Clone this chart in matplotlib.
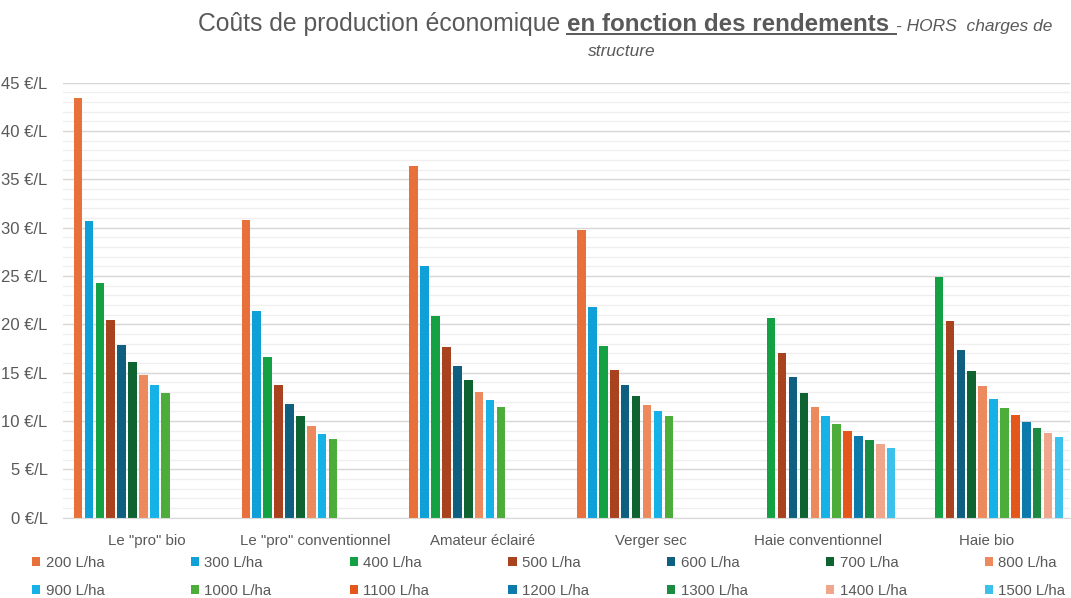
import numpy as np
import matplotlib.pyplot as plt
from matplotlib.lines import Line2D
from matplotlib.ticker import MultipleLocator

plt.rcParams['font.family'] = ['Liberation Sans', 'DejaVu Sans']

TEXT_GREY = '#595959'

CATEGORIES = ['Le "pro" bio', 'Le "pro" conventionnel', 'Amateur éclairé',
              'Verger sec', 'Haie conventionnel', 'Haie bio']
YIELDS = ['200 L/ha', '300 L/ha', '400 L/ha', '500 L/ha', '600 L/ha', '700 L/ha', '800 L/ha',
          '900 L/ha', '1000 L/ha', '1100 L/ha', '1200 L/ha', '1300 L/ha', '1400 L/ha', '1500 L/ha']

nan = np.nan
# cost per litre (€/L) for each yield level, in CATEGORIES order
COST_200 = [43.4, 30.8, 36.4, 29.8, nan, nan]
COST_300 = [30.7, 21.4, 26.0, 21.8, nan, nan]
COST_400 = [24.3, 16.6, 20.9, 17.8, 20.7, 24.9]
COST_500 = [20.5, 13.7, 17.7, 15.3, 17.0, 20.3]
COST_600 = [17.9, 11.8, 15.7, 13.7, 14.6, 17.3]
COST_700 = [16.1, 10.5, 14.2, 12.6, 12.9, 15.2]
COST_800 = [14.8, 9.5, 13.0, 11.7, 11.5, 13.6]
COST_900 = [13.7, 8.7, 12.2, 11.0, 10.5, 12.3]
COST_1000 = [12.9, 8.1, 11.5, 10.5, 9.7, 11.3]
COST_1100 = [nan, nan, nan, nan, 9.0, 10.6]
COST_1200 = [nan, nan, nan, nan, 8.5, 9.9]
COST_1300 = [nan, nan, nan, nan, 8.0, 9.3]
COST_1400 = [nan, nan, nan, nan, 7.6, 8.8]
COST_1500 = [nan, nan, nan, nan, 7.2, 8.4]

SERIES = [COST_200, COST_300, COST_400, COST_500, COST_600, COST_700, COST_800,
          COST_900, COST_1000, COST_1100, COST_1200, COST_1300, COST_1400, COST_1500]

COLORS = ['#E8703A', '#0FA0D8', '#14A143', '#A8421F', '#0E5F80', '#0F6331', '#EC8A5E',
          '#16B1E6', '#4CAD3A', '#E5561B', '#0C7BAB', '#1A8B40', '#F0A68A', '#3CC0EC']

fig = plt.figure(figsize=(10.71, 5.98), dpi=100)
ax = fig.add_axes([63 / 1071, 1 - 517.7 / 598, 1007 / 1071, 435 / 598])

x = np.arange(len(CATEGORIES))
slot = 0.065
bar_w = 0.051
n = len(SERIES)
for j, (vals, col, lab) in enumerate(zip(SERIES, COLORS, YIELDS)):
    ax.bar(x + (j - (n - 1) / 2) * slot + 0.012, vals, width=bar_w, color=col, label=lab, zorder=3)

ax.set_xlim(-0.5, len(CATEGORIES) - 0.5)
ax.set_ylim(0, 45)
ax.yaxis.set_minor_locator(MultipleLocator(1))
ax.set_yticks(np.arange(0, 46, 5))
ax.set_yticklabels([f"{v} €/L" for v in range(0, 46, 5)])
ax.grid(axis='y', which='major', color='#DAD6D6', linewidth=1.0, zorder=0)
ax.grid(axis='y', which='minor', color='#F0EEEE', linewidth=0.9, zorder=0)
ax.set_xticks(x)
ax.set_xticklabels(CATEGORIES)
ax.tick_params(axis='y', which='both', length=0, pad=11, labelsize=12, labelcolor=TEXT_GREY)
ax.tick_params(axis='x', length=0, pad=12, labelsize=10.8, labelcolor=TEXT_GREY)
for side in ['top', 'right', 'left']:
    ax.spines[side].set_visible(False)
ax.spines['bottom'].set_color('#D9D9D9')
ax.spines['bottom'].set_zorder(4)

# legend: seven columns of two rows, laid out row by row
handles, labels = ax.get_legend_handles_labels()
col_x = [32 + 158.8 * c for c in range(7)]
for c in range(7):
    fig.legend([handles[c], handles[c + 7]], [labels[c], labels[c + 7]],
               loc='upper left', bbox_to_anchor=(col_x[c] / 1071, 1 - 556 / 598),
               frameon=False, fontsize=10.8, handlelength=0.55, handleheight=0.55,
               handletextpad=0.35, labelspacing=0.92, borderpad=0, borderaxespad=0,
               labelcolor=TEXT_GREY)

# title made of three styled pieces on one line, plus a second line
fig.canvas.draw()
renderer = fig.canvas.get_renderer()
W, H = fig.bbox.width, fig.bbox.height
base_y = 1 - 31 / 598
x0 = 198 / W
t1 = fig.text(x0, base_y, "Coûts de production économique ", fontsize=17.8,
              color=TEXT_GREY, va='baseline', ha='left')
bb1 = t1.get_window_extent(renderer)
t2 = fig.text(bb1.x1 / W, base_y, "en fonction des rendements ", fontsize=17.4,
              fontweight='bold', color=TEXT_GREY, va='baseline', ha='left')
bb2 = t2.get_window_extent(renderer)
t3 = fig.text(bb2.x1 / W, base_y, "- HORS  charges de", fontsize=12.5,
              style='italic', color=TEXT_GREY, va='baseline', ha='left')
fig.add_artist(Line2D([bb2.x0 / W, bb2.x1 / W], [base_y - 2.5 / H, base_y - 2.5 / H],
                      color=TEXT_GREY, linewidth=1.4))
fig.text(622 / W, 1 - 56 / 598, "structure", fontsize=12.5, style='italic',
         color=TEXT_GREY, va='baseline', ha='center')

fig.savefig('out.png', dpi=100)
